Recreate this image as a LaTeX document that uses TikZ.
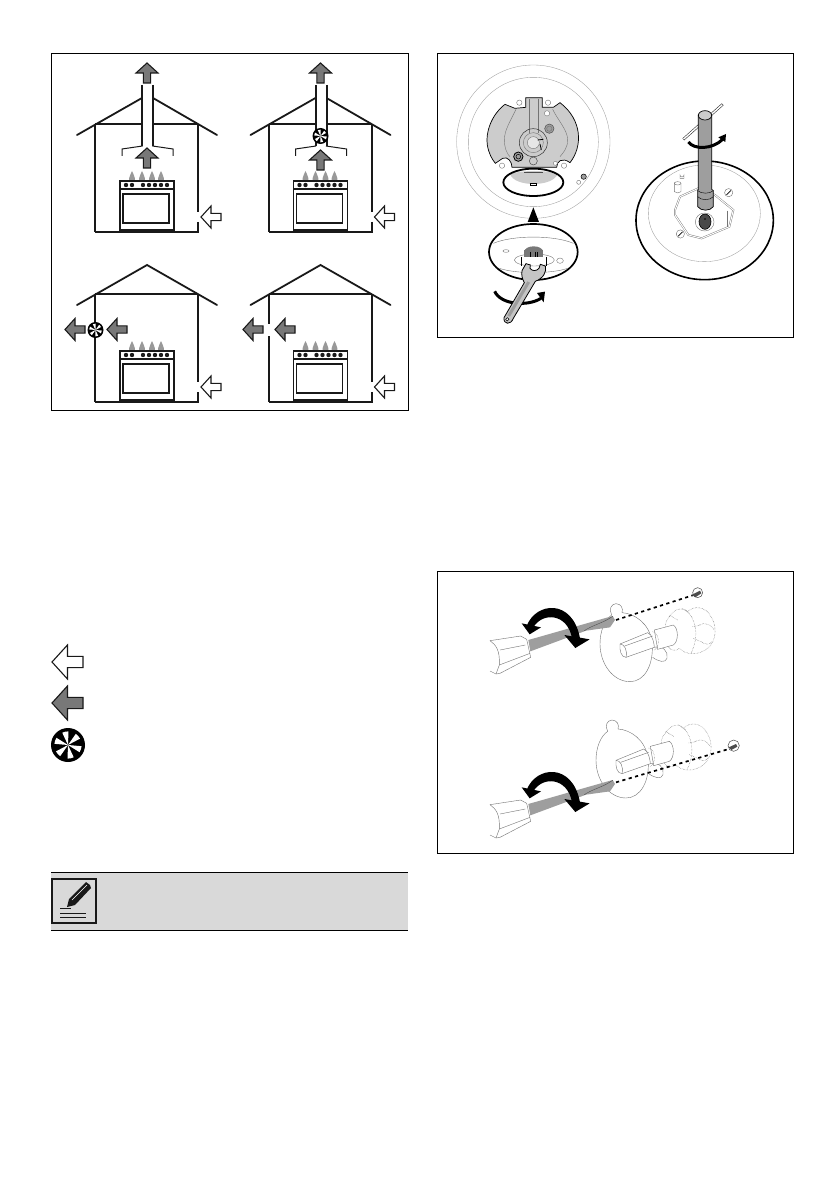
\documentclass[tikz,border=0pt]{standalone}
\definecolor{arrowgrey}{gray}{0.47}
\definecolor{inkc}{gray}{0.10}
\definecolor{flamec}{gray}{0.60}
\definecolor{platec}{gray}{0.80}
\definecolor{toolc}{gray}{0.62}
\definecolor{hairc}{gray}{0.62}
\definecolor{notec}{gray}{0.85}
\tikzset{
  panelframe/.style={draw=black,line width=0.9pt,fill=white},
  wallline/.style={draw=inkc,line width=2pt,line cap=butt},
  roofline/.style={draw=inkc,line width=1.8pt,line cap=round},
  ovenline/.style={draw=inkc,line width=1.5pt},
  hood/.style={draw=inkc,line width=1pt},
  hair/.style={draw=hairc,line width=0.35pt},
  fine/.style={draw=black!55,line width=0.4pt},
  dots/.style={draw=black!60,line width=0.45pt,densely dotted},
  burst/.style={draw=black,line width=1.7pt,dash pattern=on 3.2pt off 3.4pt},
  band/.style={draw=black,line width=3pt},
  blockarrow/.pic={\path[pic actions] (0,0)--(10,-11)--(10,-3.6)--(20,-3.6)--(20,3.6)--(10,3.6)--(10,11)--cycle;},
  flowout/.style={draw=inkc,line width=1.1pt,fill=arrowgrey,line join=miter},
  flowin/.style={draw=inkc,line width=1.1pt,fill=white,line join=miter},
  fan/.pic={
    \fill[black] (0,0) circle (1);
    \foreach \a in {5,65,...,305}{\fill[white] (0,0)--(\a:0.8) arc (\a:\a+27:0.8)--cycle;}
  },
  flame/.pic={\fill[flamec] (0,0) .. controls (0.5,2.5) and (2.8,4.5) .. (2.8,7) -- (2.8,9) -- (-2.8,9) -- (-2.8,7) .. controls (-2.8,4.5) and (-0.5,2.5) .. (0,0);},
  cooker/.pic={
    \foreach \x in {132,142,152,161}{\pic at (\x,171) {flame};}
    \draw[ovenline,fill=white] (120,181) rectangle (174,230);
    \draw[ovenline] (120,189)--(174,189);
    \draw[ovenline] (123,194) rectangle (169,223);
    \foreach \x in {126,132,143,149,155,161,167}{
      \fill[inkc] (\x,185) circle (2.2);}
  },
  housebase/.pic={
    \draw[wallline] (95,124)--(198,124);
    \draw[wallline] (198,124)--(198,212);
    \draw[wallline] (198,222)--(198,232)--(95,232);
    \pic {cooker};
    \pic[flowin] at (201,217) {blockarrow};
  },
  flatroof/.pic={\draw[roofline] (77,135)--(147,95)--(217,135);},
  ductroof/.pic={
    \draw[roofline] (77,135)--(142,98);
    \draw[roofline] (153,98)--(217,135);
    \fill[white] (143,86) rectangle (152,147);
    \draw[wallline] (142,85)--(142,146);
    \draw[wallline] (153,85)--(153,146);
    \draw[hood] (142.5,146)--(122,149)--(122,156);
    \draw[hood] (152.5,146)--(173,149)--(173,156);
    \pic[flowout,rotate=-90] at (147,63) {blockarrow};
  },
  smallscrew/.pic={
    \draw[fine,fill=white] (0,0) circle (13);
    \draw[black,line width=0.6pt] (-7,7)--(7,-7);
  },
  knobgroup/.pic={
    \path[draw=black!55,line width=0.4pt,fill=white]
      (527,135) .. controls (518,118) and (525,102) .. (540,101)
      .. controls (556,102) and (562,115) .. (558,128)
      .. controls (595,130) and (640,160) .. (648,215)
      .. controls (655,285) and (625,335) .. (582,335)
      .. controls (530,335) and (492,280) .. (492,222)
      .. controls (492,185) and (505,150) .. (527,135);
    \path[draw=black!55,line width=0.4pt,fill=white]
      (655,232) .. controls (680,225) and (698,245) .. (693,265)
      .. controls (688,280) and (668,275) .. (650,262);
    \draw[dots] (700,140) .. controls (715,115) and (740,110) .. (755,125) .. controls (775,105) and (810,110) .. (825,140)
      .. controls (845,170) and (840,215) .. (815,235) .. controls (785,258) and (750,255) .. (730,235) .. controls (705,255) and (680,220) .. (690,185) .. controls (685,165) and (690,150) .. (700,140);
    \draw[dots] (755,125) .. controls (780,150) and (790,200) .. (765,250);
    \draw[dots] (790,165) .. controls (810,155) and (825,165) .. (835,180);
    \draw[dots] (795,215) .. controls (810,225) and (820,225) .. (828,215);
    \draw[dots] (725,150)--(700,135) (760,130)--(738,115) (770,170)--(795,165) (772,205)--(795,215);
    \draw[fine,fill=white] (655,180) -- (712,165) .. controls (728,175) and (728,215) .. (712,225) -- (665,238) -- cycle;
    \draw[dots] (650,185) .. controls (672,190) and (672,232) .. (655,240);
    \draw[fine,fill=white] (552,222) -- (635,188) .. controls (650,192) and (655,225) .. (655,232) -- (570,262)
      .. controls (555,262) and (550,240) .. (552,222);
    \draw[fine] (552,222) .. controls (565,222) and (575,240) .. (570,262);
    \draw[fine] (566,228)--(650,198);
  },
  driver/.pic={
    \draw[fine,fill=white] (162,212)--(254,198)--(272,208)--(284,262)--(192,310)--(180,312)--(162,303);
    \draw[fine] (162,212) .. controls (180,225) and (192,240) .. (190,285) -- (180,312);
    \draw[fine] (192,240)--(268,225);
    \draw[fine] (190,285)--(282,250);
    \fill[toolc] (277,210)--(505,145)--(530,138)--(537,150)--(522,172)--(450,182)--(283,244)--cycle;
    \draw[black!70,line width=0.4pt] (445,182) .. controls (470,165) and (500,160) .. (530,139);
    \fill[black] (272,168) .. controls (300,95) and (410,85) .. (432,205) -- (408,205) .. controls (395,130) and (320,125) .. (292,172) -- cycle;
    \fill[black] (257,160)--(315,172)--(281,193)--cycle;
    \fill[black] (385,195)--(461,208)--(418,234)--cycle;
  }
}
\begin{document}
\begin{tikzpicture}[x=1pt,y=-1pt]
\useasboundingbox (0,0) rectangle (839,1190);
\fill[white] (0,0) rectangle (839,1190);
% left panel
\draw[panelframe] (51.5,53.5) rectangle (408,410);
\pic at (0,0) {housebase};
\pic at (0,0) {ductroof};
\draw[wallline] (95,124)--(95,232);
\pic[flowout,rotate=-90] at (147,148) {blockarrow};
\pic at (173.5,0) {housebase};
\pic at (173.5,0) {ductroof};
\draw[wallline] (268.5,124)--(268.5,232);
\pic[flowout,rotate=-90] at (320.5,150) {blockarrow};
\pic[scale=8] at (320.5,136) {fan};
\pic at (0,170) {housebase};
\pic at (0,170) {flatroof};
\draw[wallline] (95,294)--(95,402);
\pic[flowout] at (65,329.5) {blockarrow};
\pic[flowout] at (107,329.5) {blockarrow};
\pic[scale=8] at (95.5,330) {fan};
\pic at (173.5,170) {housebase};
\pic at (173.5,170) {flatroof};
\draw[wallline] (268.5,294)--(268.5,324);
\draw[wallline] (268.5,336)--(268.5,402);
\pic[flowout] at (243,329.5) {blockarrow};
\pic[flowout] at (275,329.5) {blockarrow};
% legend
\pic[flowin,scale=1.55] at (52,662) {blockarrow};
\pic[flowout,scale=1.55] at (52,703) {blockarrow};
\pic[scale=17] at (68,745) {fan};
% note
\fill[notec] (51,872) rectangle (408,930);
\draw[black,line width=0.8pt] (51,872)--(408,872);
\draw[black,line width=0.8pt] (51,930)--(408,930);
\draw[inkc,line width=1.1pt] (52,879) rectangle (96,923);
\fill[inkc] (67,907)--(69,899)--(86,882)--(90,885)--(91,888)--(75,905)--cycle;
\draw[white,line width=0.5pt] (72,900)--(87,885);
\draw[inkc,line width=0.6pt] (60,908)--(71,908);
\draw[inkc,line width=0.6pt] (60,913)--(86,913);
\draw[inkc,line width=0.6pt] (60,917)--(86,917);
% top right panel
\draw[panelframe] (437.5,53.5) rectangle (793.5,337);
\begin{scope}[shift={(436,50)},x=0.33333pt,y=-0.33333pt]
  \draw[hair] (292,275) circle [x radius=230,y radius=230];
  \draw[hair] (292,276) circle [x radius=195,y radius=194];
  \draw[black,line width=0.7pt,fill=platec]
    (207,163) .. controls (165,195) and (148,250) .. (154,285)
    .. controls (158,310) and (168,328) .. (178,340)
    -- (200,325) .. controls (215,318) and (228,335) .. (228,352)
    -- (362,352) .. controls (362,335) and (378,320) .. (402,338)
    .. controls (440,290) and (440,210) .. (372,158)
    -- (352,172) -- (319,172) -- (319,143) -- (269,143) -- (269,172) -- (237,175) -- cycle;
  \draw[fine] (280,146)--(280,250) (308,146)--(308,250);
  \draw[fine] (240,178) .. controls (225,210) and (205,240) .. (205,270) .. controls (205,295) and (215,315) .. (222,320);
  \draw[fine] (350,178) .. controls (365,210) and (395,240) .. (395,270) .. controls (395,295) and (380,310) .. (372,320);
  \draw[black!80,line width=0.5pt] (292,278) circle (42);
  \draw[fine] (292,278) circle (30);
  \draw[fine,fill=platec!50!white] (292,278) circle (18);
  \draw[black!70,line width=0.5pt,fill=toolc] (340,236) circle (14);
  \draw[fine] (340,236) circle (8);
  \draw[black,line width=0.8pt,fill=toolc] (247,320) circle (14);
  \draw[black,line width=0.5pt] (247,320) circle (7);
  \draw[black!70,line width=0.5pt] (292,333) circle (12);
  \draw[black,line width=0.8pt] (312,282)--(316,300) (305,270)--(322,268);
  \draw[fine,fill=white] (333,190) circle (8);
  \draw[fine,fill=white] (250,158) circle (8);
  \draw[fine,fill=white] (336,158) circle (8);
  \draw[fine,fill=white] (198,347) circle (8);
  \draw[fine,fill=white] (384,347) circle (8);
  \draw[fine,fill=white] (358,340) circle (6);
  \draw[black,line width=0.5pt,fill=toolc] (443,380) circle (8);
  \draw[fine,fill=white] (428,397) circle (6);
  \fill[platec] (222,372) .. controls (260,360) and (330,360) .. (365,372) .. controls (350,412) and (235,412) .. (222,372);
  \draw[black!70,line width=0.6pt] (265,368)--(320,368);
  \draw[black,line width=0.5pt] (283,400) rectangle (301,405);
  \draw[black,line width=1.8pt] (292,397) circle [x radius=90,y radius=41];
  \fill[black] (275,516)--(309,516)--(292,472)--cycle;
  \draw[black,line width=1.7pt,fill=white] (292,606) circle [x radius=133,y radius=84];
  \draw[fine] (172,580) .. controls (230,555) and (355,555) .. (412,580);
  \draw[fine] (190,655) .. controls (240,672) and (345,672) .. (395,655);
  \draw[fine] (295,630) circle [x radius=60,y radius=18];
  \draw[fine,fill=white] (210,603) circle [x radius=9,y radius=4];
  \draw[fine,fill=white] (372,632) circle [x radius=10,y radius=8];
  \fill[arrowgrey] (263,600)--(322,600)--(322,620)--(263,620)--cycle;
  \fill[arrowgrey] (293,605) circle [x radius=28,y radius=16];
  \draw[black,line width=0.8pt] (282,606)--(282,622) (298,606)--(298,622) (304,606)--(304,622);
  \draw[black,line width=0.5pt] (255,622)--(255,648) (331,622)--(331,648);
  \draw[band] (176,724) .. controls (195,765) and (275,770) .. (315,745);
  \fill[black] (303,729)--(327,725)--(323,757)--cycle;
  \draw[black,line width=0.8pt,fill=toolc!60!white]
    (258,662) -- (270,641) -- (283,645) -- (282,655) .. controls (288,664) and (302,664) .. (309,655)
    -- (313,643) -- (328,648) .. controls (333,665) and (322,685) .. (298,694)
    -- (232,805) .. controls (225,825) and (202,825) .. (204,803) -- (265,698) .. controls (258,685) and (256,675) .. (258,662) -- cycle;
  \fill[toolc] (222,800)--(282,698)--(274,694)--(214,796)--cycle;
  \draw[black,line width=0.5pt,fill=white] (214,808) circle (5);
  \draw[black,line width=1.6pt,fill=white] (806,511) circle [x radius=206,y radius=178];
  \draw[hair] (805,490) circle [x radius=168,y radius=145];
  \draw[fine,double=white,double distance=1pt] (717,480) -- (732,440) -- (787,415) -- (837,435) -- (892,480) -- (880,530) -- (797,565) -- (757,555) -- (717,495) -- cycle;
  \draw[fine] (875,482)--(875,530);
  \pic[scale=0.95] at (878,428) {smallscrew};
  \pic[scale=0.95] at (733,552) {smallscrew};
  \draw[fine,fill=white] (715,397)--(715,425) .. controls (720,430) and (730,430) .. (735,425) -- (735,400);
  \draw[fine,fill=white] (725,400) circle [x radius=10,y radius=5];
  \draw[fine,fill=white] (732,385)--(732,375) arc (180:0:6)--(744,385)--cycle;
  \draw[fine,fill=white] (806,516) circle [x radius=28,y radius=27];
  \draw[black,line width=0.6pt,fill=arrowgrey!60!black] (807,515) circle [x radius=18,y radius=23];
  \fill[black] (807,507) circle (2.5);
  \draw[black!80,line width=2.6pt] (742,268)--(860,163);
  \draw[white,line width=1.4pt] (743,267)--(859,164);
  \draw[black,line width=0.7pt,fill=toolc] (787,195) -- (787,418) -- (785,422) -- (785,470) .. controls (795,484) and (822,484) .. (832,470) -- (832,422) -- (827,418) -- (827,195) -- cycle;
  \draw[black,line width=0.4pt] (785,440) .. controls (795,452) and (822,452) .. (832,440);
  \draw[black,line width=0.4pt] (785,422) .. controls (795,432) and (822,432) .. (832,422);
  \draw[black,line width=0.7pt,fill=platec] (807,196) circle [x radius=20,y radius=14];
  \draw[band] (757,276) .. controls (775,300) and (830,298) .. (860,268);
  \fill[black] (847,262)--(870,252)--(868,276)--cycle;
\end{scope}
% lower right panel
\draw[panelframe] (437.5,571.5) rectangle (793.5,853);
\begin{scope}[shift={(436,570)},x=0.33333pt,y=-0.33333pt]
  \pic at (0,0) {knobgroup};
  \pic at (-12,349) {knobgroup};
  \draw[burst] (540,150)--(770,76);
  \draw[burst] (540,637)--(875,538);
  \pic at (0,0) {driver};
  \pic at (0,492) {driver};
  \draw[black!70,line width=0.5pt,fill=white] (785,68) circle (15);
  \fill[black!70] (768,74)--(792,62)--(796,70)--(778,82)--cycle;
  \draw[black!70,line width=0.5pt,fill=white] (893,527) circle (17);
  \fill[black!70] (878,532)--(900,522)--(904,530)--(886,540)--cycle;
\end{scope}
\end{tikzpicture}
\end{document}
